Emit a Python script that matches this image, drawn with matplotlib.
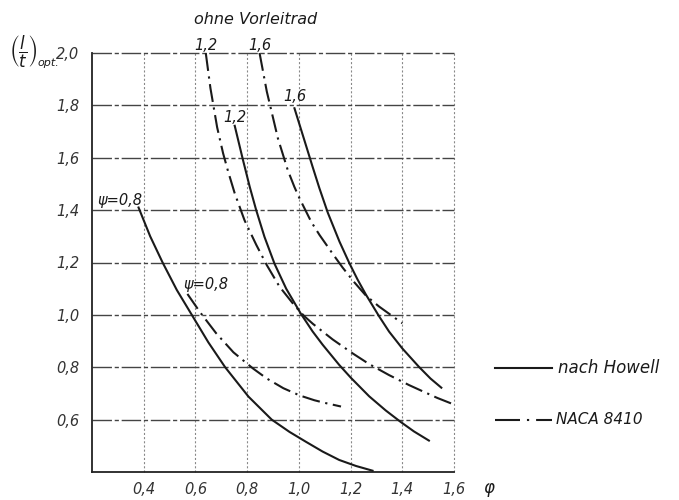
import matplotlib.pyplot as plt
from matplotlib.lines import Line2D

plt.rcParams['font.family'] = ['DejaVu Sans']
plt.rcParams['mathtext.fontset'] = 'dejavusans'
plt.rcParams['lines.scale_dashes'] = False

# ---- Werte ----
# nach Howell (durchgezogen), psi = 0.8 / 1.2 / 1.6
how_08_x = [0.380, 0.425, 0.473, 0.528, 0.586, 0.650, 0.715, 0.805, 0.895, 0.964, 1.028, 1.092, 1.156, 1.221, 1.285]
how_08_y = [1.410, 1.300, 1.200, 1.095, 1.000, 0.895, 0.800, 0.688, 0.600, 0.553, 0.515, 0.478, 0.446, 0.423, 0.405]

how_12_x = [0.752, 0.784, 0.810, 0.835, 0.867, 0.906, 0.951, 1.008, 1.053, 1.092, 1.156, 1.201, 1.272, 1.336, 1.394, 1.445, 1.503]
how_12_y = [1.722, 1.591, 1.489, 1.400, 1.298, 1.195, 1.100, 1.004, 0.937, 0.886, 0.809, 0.760, 0.689, 0.635, 0.591, 0.555, 0.520]

how_16_x = [0.983, 1.021, 1.053, 1.079, 1.112, 1.157, 1.195, 1.227, 1.259, 1.310, 1.349, 1.400, 1.464, 1.509, 1.551]
how_16_y = [1.789, 1.668, 1.566, 1.485, 1.390, 1.280, 1.198, 1.135, 1.078, 0.995, 0.936, 0.872, 0.802, 0.757, 0.722]

# NACA 8410 (strichpunktiert)
naca_08_x = [0.569, 0.618, 0.680, 0.747, 0.823, 0.876, 0.940, 1.004, 1.060, 1.100, 1.163]
naca_08_y = [1.080, 1.010, 0.930, 0.857, 0.795, 0.757, 0.720, 0.692, 0.674, 0.664, 0.650]

naca_12_x = [0.640, 0.658, 0.684, 0.707, 0.726, 0.752, 0.790, 0.835, 0.876, 0.925, 0.983, 1.021,
             1.054, 1.131, 1.208, 1.272, 1.349, 1.426, 1.477, 1.535, 1.599]
naca_12_y = [2.000, 1.866, 1.716, 1.617, 1.549, 1.464, 1.361, 1.268, 1.190, 1.108, 1.036, 0.995,
             0.966, 0.906, 0.853, 0.812, 0.770, 0.732, 0.709, 0.683, 0.658]

naca_16_x = [0.848, 0.876, 0.919, 0.957, 0.983, 1.003, 1.048, 1.080, 1.131, 1.169, 1.214, 1.259, 1.310, 1.400]
naca_16_y = [2.000, 1.853, 1.674, 1.553, 1.488, 1.444, 1.355, 1.305, 1.233, 1.181, 1.125, 1.074, 1.032, 0.968]

x_ticks = [0.4, 0.6, 0.8, 1.0, 1.2, 1.4, 1.6]
y_ticks = [0.6, 0.8, 1.0, 1.2, 1.4, 1.6, 1.8, 2.0]

# ---- Stil ----
INK = '#1a1a1a'
SOLID = '-'
DASHDOT = (0, (13, 4, 1.6, 4))
LW = 1.5

fig = plt.figure(figsize=(6.79, 5.0), dpi=100)
ax = fig.add_axes([92 / 679, 1 - 472 / 500, (454 - 92) / 679, (472 - 53) / 500])

for xs, ys in [(how_08_x, how_08_y), (how_12_x, how_12_y), (how_16_x, how_16_y)]:
    ax.plot(xs, ys, color=INK, lw=LW, ls=SOLID, clip_on=False, zorder=3)
for xs, ys in [(naca_08_x, naca_08_y), (naca_12_x, naca_12_y), (naca_16_x, naca_16_y)]:
    ax.plot(xs, ys, color=INK, lw=LW, ls=DASHDOT, clip_on=False, zorder=3)

ax.set_xlim(0.2, 1.6)
ax.set_ylim(0.4, 2.0)
ax.set_xticks(x_ticks)
ax.set_yticks(y_ticks)
ax.set_xticklabels([f"{v:.1f}".replace('.', ',') for v in x_ticks])
ax.set_yticklabels([f"{v:.1f}".replace('.', ',') for v in y_ticks])
ax.tick_params(length=0, labelsize=10.5, labelcolor='#333333')
ax.tick_params(axis='x', pad=7)
ax.tick_params(axis='y', pad=9)
for lab in ax.get_xticklabels() + ax.get_yticklabels():
    lab.set_fontstyle('italic')

ax.grid(axis='y', color='#444444', lw=1.0, ls=(0, (14, 2, 3, 2)), clip_on=False)
ax.grid(axis='x', color='#888888', lw=0.8, ls=(0, (1.5, 1.5)), clip_on=False)
ax.set_axisbelow(True)

for s in ['top', 'right']:
    ax.spines[s].set_visible(False)
for s in ['left', 'bottom']:
    ax.spines[s].set_color('#222222')
    ax.spines[s].set_linewidth(1.3)

# Kurvenbeschriftungen
lab_kw = dict(fontsize=10.5, style='italic', color=INK, ha='center', va='center')
ax.text(0.309, 1.438, "ψ=0,8", **lab_kw)
ax.text(0.642, 1.117, "ψ=0,8", **lab_kw)
ax.text(0.642, 2.03, "1,2", **lab_kw)
ax.text(0.850, 2.03, "1,6", **lab_kw)
ax.text(0.752, 1.755, "1,2", **lab_kw)
ax.text(0.985, 1.835, "1,6", **lab_kw)

fig.text(256 / 679, 1 - 20 / 500, "ohne Vorleitrad", fontsize=11.5, style='italic',
         color=INK, ha='center', va='center')
# Achsenbeschriftung y: (l/t)_opt.
fig.text(9 / 679, 1 - 52 / 500, r"$\left(\dfrac{l}{t}\right)$", fontsize=12,
         color=INK, ha='left', va='center')
fig.text(37 / 679, 1 - 63 / 500, "opt.", fontsize=8, style='italic',
         color=INK, ha='left', va='center')
fig.text(489 / 679, 1 - 488 / 500, "φ", fontsize=12, style='italic', color=INK,
         ha='center', va='center')

# Legende
fig.add_artist(Line2D([495 / 679, 552 / 679], [1 - 368 / 500] * 2, color=INK, lw=LW,
                      transform=fig.transFigure))
fig.add_artist(Line2D([495 / 679, 552 / 679], [1 - 420 / 500] * 2, color=INK, lw=LW,
                      ls=(0, (18, 5, 1.6, 5)), transform=fig.transFigure))
fig.text(558 / 679, 1 - 368 / 500, "nach Howell", fontsize=12, style='italic', color=INK,
         ha='left', va='center')
fig.text(556 / 679, 1 - 420 / 500, "NACA 8410", fontsize=11, style='italic', color=INK,
         ha='left', va='center')

fig.savefig("out.png", dpi=100)
